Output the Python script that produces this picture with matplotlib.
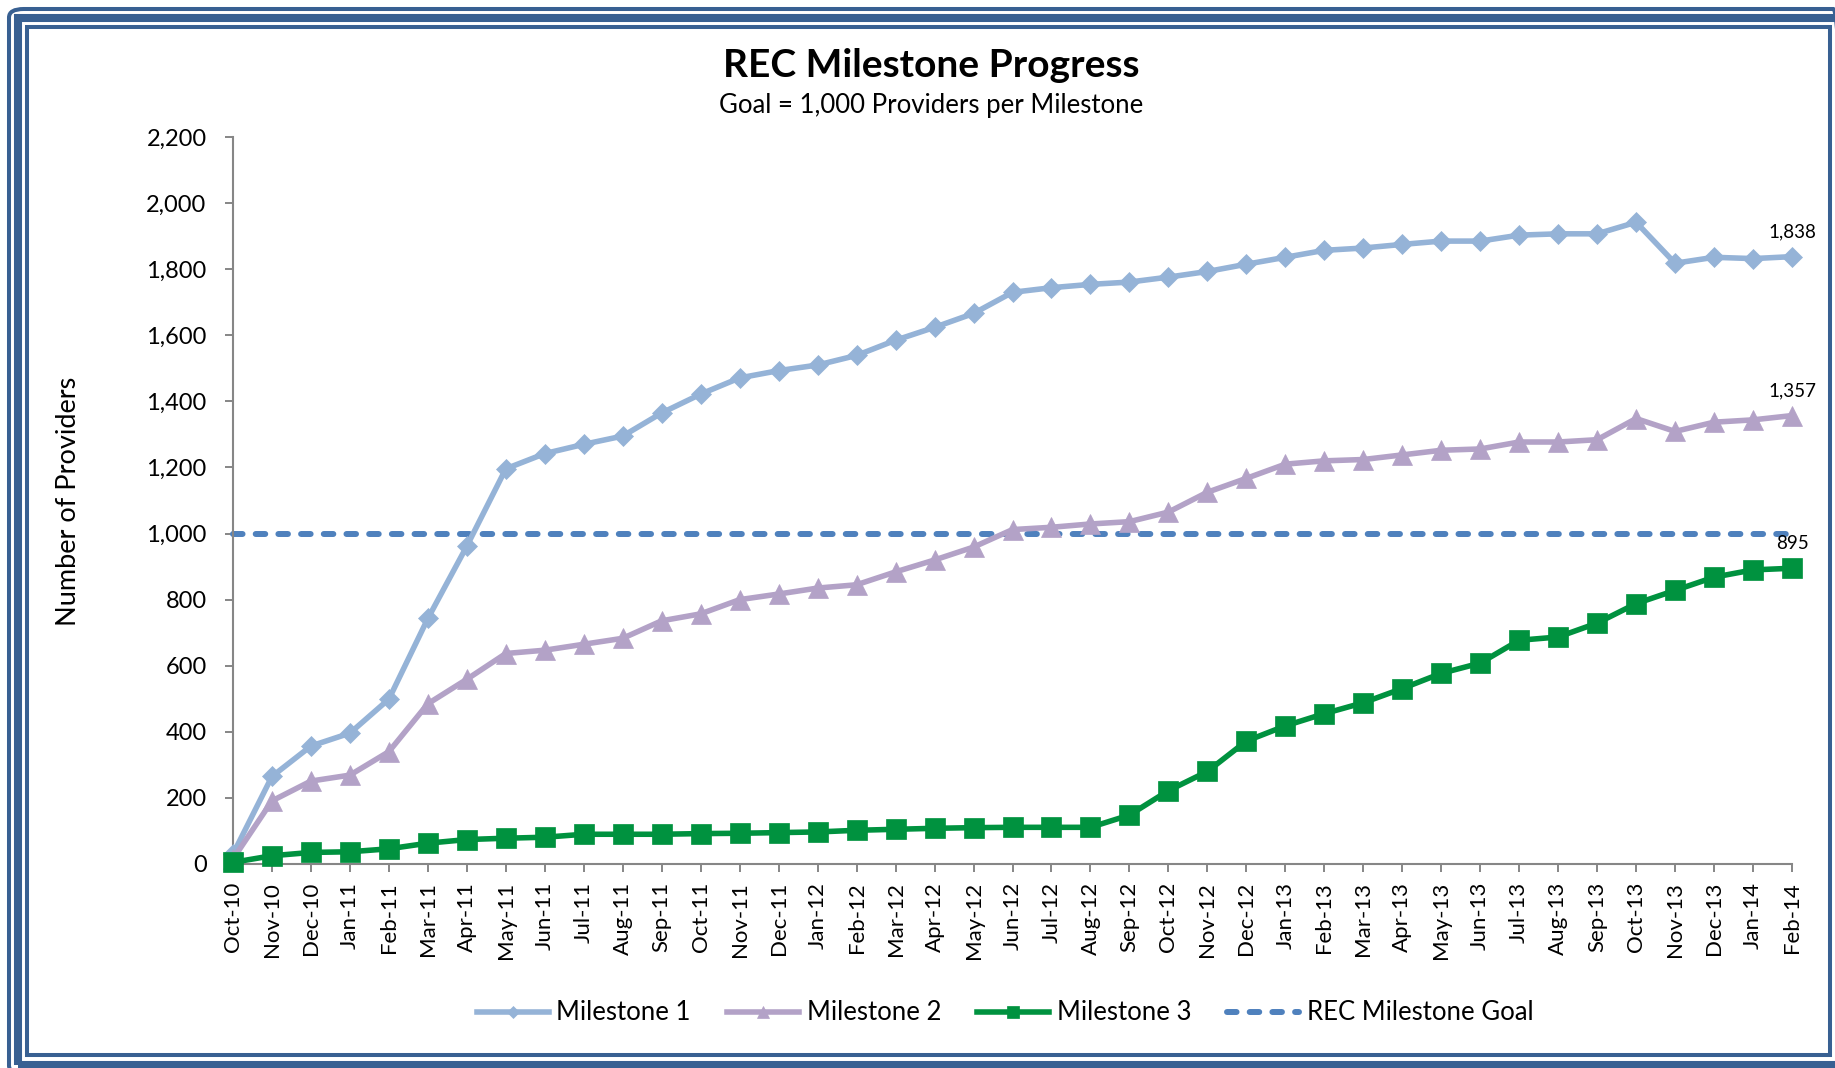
import matplotlib
matplotlib.use('Agg')
import matplotlib.pyplot as plt
import matplotlib.ticker as ticker
from matplotlib.patches import FancyBboxPatch, Rectangle

plt.rcParams['font.family'] = ['Lato', 'DejaVu Sans']

# Data
MONTHS = ['Oct-10', 'Nov-10', 'Dec-10', 'Jan-11', 'Feb-11', 'Mar-11', 'Apr-11', 'May-11',
          'Jun-11', 'Jul-11', 'Aug-11', 'Sep-11', 'Oct-11', 'Nov-11', 'Dec-11', 'Jan-12',
          'Feb-12', 'Mar-12', 'Apr-12', 'May-12', 'Jun-12', 'Jul-12', 'Aug-12', 'Sep-12',
          'Oct-12', 'Nov-12', 'Dec-12', 'Jan-13', 'Feb-13', 'Mar-13', 'Apr-13', 'May-13',
          'Jun-13', 'Jul-13', 'Aug-13', 'Sep-13', 'Oct-13', 'Nov-13', 'Dec-13', 'Jan-14',
          'Feb-14']

milestone1 = [30, 265, 357, 396, 499, 743, 962, 1196, 1242, 1270, 1295, 1365, 1422, 1471,
              1493, 1510, 1539, 1585, 1624, 1666, 1730, 1744, 1754, 1761, 1776, 1793, 1815,
              1836, 1857, 1864, 1875, 1885, 1885, 1903, 1907, 1907, 1942, 1818, 1836, 1832,
              1838]

milestone2 = [15, 191, 251, 269, 340, 485, 559, 637, 647, 665, 683, 736, 757, 800, 817, 835,
              845, 884, 920, 959, 1012, 1019, 1029, 1036, 1065, 1125, 1167, 1210, 1220, 1224,
              1238, 1252, 1256, 1277, 1277, 1284, 1348, 1309, 1337, 1344, 1357]

milestone3 = [5, 25, 35, 37, 46, 63, 74, 78, 81, 90, 90, 90, 92, 93, 95, 97, 102, 105, 108,
              110, 111, 111, 111, 148, 222, 280, 372, 418, 455, 488, 531, 577, 608, 677, 687,
              729, 788, 828, 868, 890, 895]

goal = [1000] * len(MONTHS)

COLORS = {
    'm1': '#95B3D7',
    'm2': '#B3A2C7',
    'm3': '#00923F',
    'goal': '#4F81BD',
    'frame': '#386092',
    'axis': '#868686',
}

W, H = 1835, 1068


def px_box(x0, y0, x1, y1):
    """pixel box (from top-left) -> figure fraction (left, bottom, width, height)"""
    return x0 / W, 1 - y1 / H, (x1 - x0) / W, (y1 - y0) / H


fig = plt.figure(figsize=(W / 100, H / 100), dpi=100)
fig.patch.set_facecolor('white')

# Frame around the chart
l, b, w, h = px_box(9, 9, 1848, 1074)
fig.patches.append(FancyBboxPatch((l, b), w, h, boxstyle='round,pad=0,rounding_size=0.008',
                                  transform=fig.transFigure, fill=False,
                                  edgecolor=COLORS['frame'], linewidth=2.9))
l, b, w, h = px_box(18, 18, 1839, 1065)
fig.patches.append(Rectangle((l, b), w, h, transform=fig.transFigure, fill=False,
                             edgecolor=COLORS['frame'], linewidth=5.8))
l, b, w, h = px_box(27, 27, 1830, 1055)
fig.patches.append(Rectangle((l, b), w, h, transform=fig.transFigure, fill=False,
                             edgecolor=COLORS['frame'], linewidth=2.9))

ax = fig.add_axes(px_box(233, 137, 1792, 864))
x = list(range(len(MONTHS)))

ax.plot(x, goal, color=COLORS['goal'], linewidth=4.3, dashes=(1.6, 2.2),
        dash_capstyle='round', label='REC Milestone Goal', zorder=2, clip_on=False)
ax.plot(x, milestone1, color=COLORS['m1'], linewidth=4.0, marker='D', markersize=10,
        markeredgewidth=0.5, label='Milestone 1', zorder=3, clip_on=False)
ax.plot(x, milestone2, color=COLORS['m2'], linewidth=4.0, marker='^', markersize=14,
        markeredgewidth=0.5, label='Milestone 2', zorder=4, clip_on=False)
ax.plot(x, milestone3, color=COLORS['m3'], linewidth=4.0, marker='s', markersize=14,
        markeredgewidth=0.5, label='Milestone 3', zorder=5, clip_on=False)

# End labels
for series in (milestone1, milestone2, milestone3):
    ax.annotate(f'{series[-1]:,}', (x[-1], series[-1]), xytext=(0, 12),
                textcoords='offset points', ha='center', va='bottom', fontsize=13.5)

ax.set_xlim(0, len(MONTHS) - 1)
ax.set_ylim(0, 2200)
ax.set_xticks(x)
ax.set_xticklabels(MONTHS, rotation=90, fontsize=16)
ax.yaxis.set_major_locator(ticker.MultipleLocator(200))
ax.yaxis.set_major_formatter(ticker.FuncFormatter(lambda v, p: f'{v:,.0f}'))
ax.tick_params(axis='y', labelsize=17, length=6, width=1.4, color=COLORS['axis'], pad=13)
ax.tick_params(axis='x', length=6, width=1.4, color=COLORS['axis'], pad=7)

for side in ('top', 'right'):
    ax.spines[side].set_visible(False)
for side in ('left', 'bottom'):
    ax.spines[side].set_color(COLORS['axis'])
    ax.spines[side].set_linewidth(1.5)

fig.text(69 / W, 1 - 501 / H, 'Number of Providers', rotation=90, fontsize=19.5,
         ha='center', va='center')

fig.text(931 / W, 1 - 77 / H, 'REC Milestone Progress', fontsize=28, fontweight='bold',
         ha='center', va='baseline')
fig.text(931 / W, 1 - 113 / H, 'Goal = 1,000 Providers per Milestone', fontsize=18.5,
         ha='center', va='baseline')

handles, labels = ax.get_legend_handles_labels()
order = [1, 2, 3, 0]
ax.legend([handles[i] for i in order], [labels[i] for i in order],
          loc='center', bbox_to_anchor=(1005 / W, 1 - 1013 / H),
          bbox_transform=fig.transFigure, ncol=4, frameon=False, fontsize=18.5,
          handlelength=2.8, handletextpad=0.3, columnspacing=1.4, markerscale=0.6)

fig.savefig('out.png', dpi=100, facecolor='white')
